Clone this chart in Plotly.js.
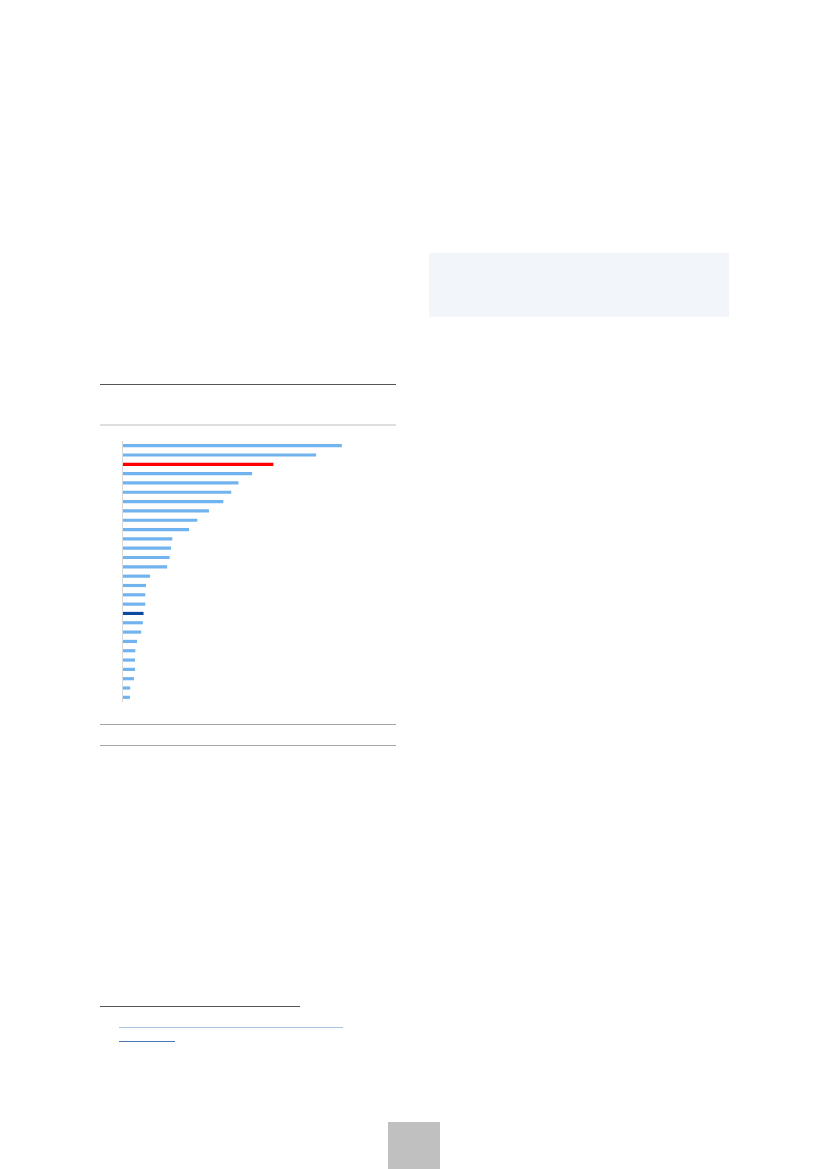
<!DOCTYPE html>
<html>
<head>
<meta charset="utf-8">
<script src="https://cdn.plot.ly/plotly-3.0.1.min.js"></script>
<style>
  html, body { margin: 0; padding: 0; background: #fff; }
  #page { position: relative; width: 827px; height: 1169px; overflow: hidden; }
  .rule { position: absolute; }
  #chart { position: absolute; left: 100px; top: 430px; width: 297px; height: 290px; }
</style>
</head>
<body>
<div id="page">
  <!-- shaded box, top right -->
  <div class="rule" style="left:429px;top:253px;width:300px;height:64px;background:#f2f5f9;"></div>

  <!-- figure frame rules -->
  <div class="rule" style="left:100px;top:384px;width:296px;height:1px;background:#555;"></div>
  <div class="rule" style="left:100px;top:424px;width:296px;height:2px;background:#dedede;"></div>
  <div class="rule" style="left:100px;top:724px;width:296px;height:1px;background:#a6a6a6;"></div>
  <div class="rule" style="left:100px;top:745px;width:296px;height:1px;background:#a6a6a6;"></div>

  <!-- footnote separator + link underlines -->
  <div class="rule" style="left:100px;top:1006px;width:200px;height:1px;background:#555;"></div>
  <div class="rule" style="left:119px;top:1027px;width:224px;height:1px;background:#a9c3de;"></div>
  <div class="rule" style="left:119px;top:1041px;width:56px;height:1px;background:#4a78b4;"></div>

  <!-- page number tab -->
  <div class="rule" style="left:388px;top:1122px;width:52px;height:47px;background:#c0c0c0;"></div>

  <div id="chart"></div>
</div>

<script>
// bar values, top to bottom
const categories = ['C1','C2','C3','C4','C5','C6','C7','C8','C9','C10','C11','C12','C13','C14',
                    'C15','C16','C17','C18','C19','C20','C21','C22','C23','C24','C25','C26','C27','C28'];
const values = [63.9, 56.4, 43.9, 37.7, 33.7, 31.6, 29.3, 25.1, 21.7, 19.3, 14.4, 14.0, 13.6, 12.9,
                7.9, 6.7, 6.5, 6.5, 6.0, 5.8, 5.3, 4.1, 3.6, 3.5, 3.5, 3.2, 2.1, 2.0];
const highlightRed = 'C3';
const highlightDark = 'C19';

const colors = categories.map(c => {
  if (c === highlightRed) return '#ff0000';
  if (c === highlightDark) return '#0d4a9e';
  return '#70b3ee';
});

const trace = {
  type: 'bar',
  orientation: 'h',
  x: values,
  y: categories,
  marker: { color: colors },
  hoverinfo: 'x+y',
};

const layout = {
  width: 297,
  height: 290,
  margin: { l: 23, r: 0, t: 11, b: 18 },
  paper_bgcolor: 'rgba(0,0,0,0)',
  plot_bgcolor: 'rgba(0,0,0,0)',
  showlegend: false,
  bargap: 0.66,
  xaxis: {
    range: [0, 80],
    showgrid: false,
    zeroline: false,
    showline: false,
    showticklabels: false,
    ticks: '',
  },
  yaxis: {
    autorange: 'reversed',
    showgrid: false,
    zeroline: false,
    showline: true,
    linecolor: '#d9d9d9',
    linewidth: 1,
    showticklabels: false,
    ticks: '',
  },
};

Plotly.newPlot('chart', [trace], layout, { displayModeBar: false, staticPlot: true });
</script>
</body>
</html>
